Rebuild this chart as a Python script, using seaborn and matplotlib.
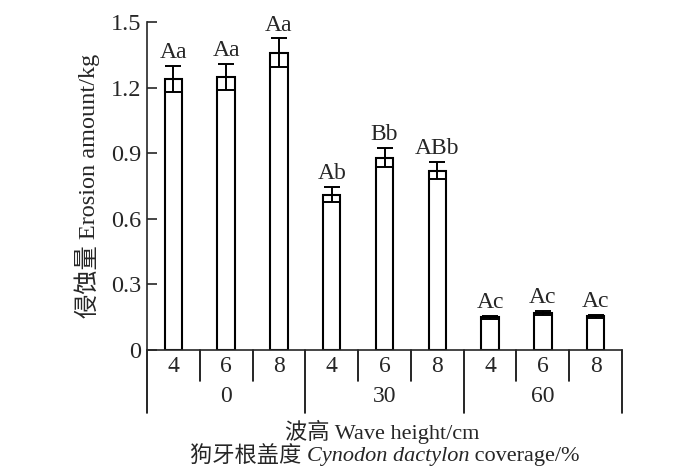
import numpy as np
import pandas as pd
import matplotlib
matplotlib.use("Agg")
import matplotlib.pyplot as plt
import matplotlib.transforms as mtransforms
import seaborn as sns

# data
coverage = ['0', '30', '60']
wave_height = ['4', '6', '8']
erosion = [1.24, 1.25, 1.36, 0.71, 0.88, 0.82, 0.15, 0.17, 0.155]
erosion_err = [0.06, 0.06, 0.065, 0.035, 0.045, 0.04, 0.006, 0.008, 0.007]
letters = ['Aa', 'Aa', 'Aa', 'Ab', 'Bb', 'ABb', 'Ac', 'Ac', 'Ac']
yticks = [0, 0.3, 0.6, 0.9, 1.2, 1.5]
ytick_labels = ['0', '0.3', '0.6', '0.9', '1.2', '1.5']

sns.set_style("ticks")
fonts = ['Liberation Serif', 'Noto Sans CJK SC']
plt.rcParams['font.family'] = fonts
plt.rcParams['axes.unicode_minus'] = False

df = pd.DataFrame({
    'slot': [str(i) for i in range(9)],
    'coverage': np.repeat(coverage, 3),
    'wave': wave_height * 3,
    'erosion': erosion,
})

fig = plt.figure(figsize=(7, 4.73), dpi=100)
ax = fig.add_axes([0.21, 0.26, 0.6786, 0.6934])

sns.barplot(data=df, x='slot', y='erosion', order=df['slot'], width=0.33,
            color='white', edgecolor='black', linewidth=1.5, errorbar=None, ax=ax)
ax.errorbar(np.arange(9), erosion, yerr=erosion_err, fmt='none', ecolor='black',
            elinewidth=1.4, capsize=5.5, capthick=1.4)

for i in range(9):
    ax.annotate(letters[i], (i, erosion[i] + erosion_err[i]), xytext=(0, 2),
                textcoords='offset points', ha='center', va='bottom', fontsize=17)

ax.set_xlim(-0.5, 8.5)
ax.set_ylim(0, 1.5)
ax.set_yticks(yticks)
ax.set_yticklabels(ytick_labels, fontsize=17.5)
ax.tick_params(axis='y', direction='in', length=7, width=1.2, pad=4)
ax.set_xticks([])
ax.set_xlabel('')
ax.set_ylabel('侵蚀量 Erosion amount/kg', fontsize=17.5, labelpad=8)
sns.despine(ax=ax)
for s in ['left', 'bottom']:
    ax.spines[s].set_linewidth(1.2)

# table under the axis
trans = mtransforms.blended_transform_factory(ax.transData, ax.transAxes)
row1 = -0.0945
row2 = -0.192
for x in [0.5, 1.5, 3.5, 4.5, 6.5, 7.5]:
    ax.plot([x, x], [0, row1], color='black', lw=1.2, transform=trans, clip_on=False)
for x in [-0.5, 2.5, 5.5, 8.5]:
    ax.plot([x, x], [0, row2], color='black', lw=1.2, transform=trans, clip_on=False)
for i in range(9):
    ax.text(i, -0.05, df['wave'][i], transform=trans, ha='center', va='center', fontsize=17)
for g in range(3):
    ax.text(3 * g + 1, -0.143, coverage[g], transform=trans, ha='center', va='center', fontsize=17)

fig.text(0.546, 0.087, '波高 Wave height/cm', ha='center', va='center', fontsize=16)

# second x label line with italic species name
parts = [('狗牙根盖度 ', 'normal'), ('Cynodon dactylon', 'italic'), (' coverage/%', 'normal')]
texts = [fig.text(0, 0.034, p, style=st, va='center', fontsize=16) for p, st in parts]
renderer = fig.canvas.get_renderer()
widths = [t.get_window_extent(renderer).width for t in texts]
x0 = 385 - sum(widths) / 2
for t, w in zip(texts, widths):
    t.set_x(x0 / 700)
    x0 += w

fig.savefig('out.png', dpi=100)
